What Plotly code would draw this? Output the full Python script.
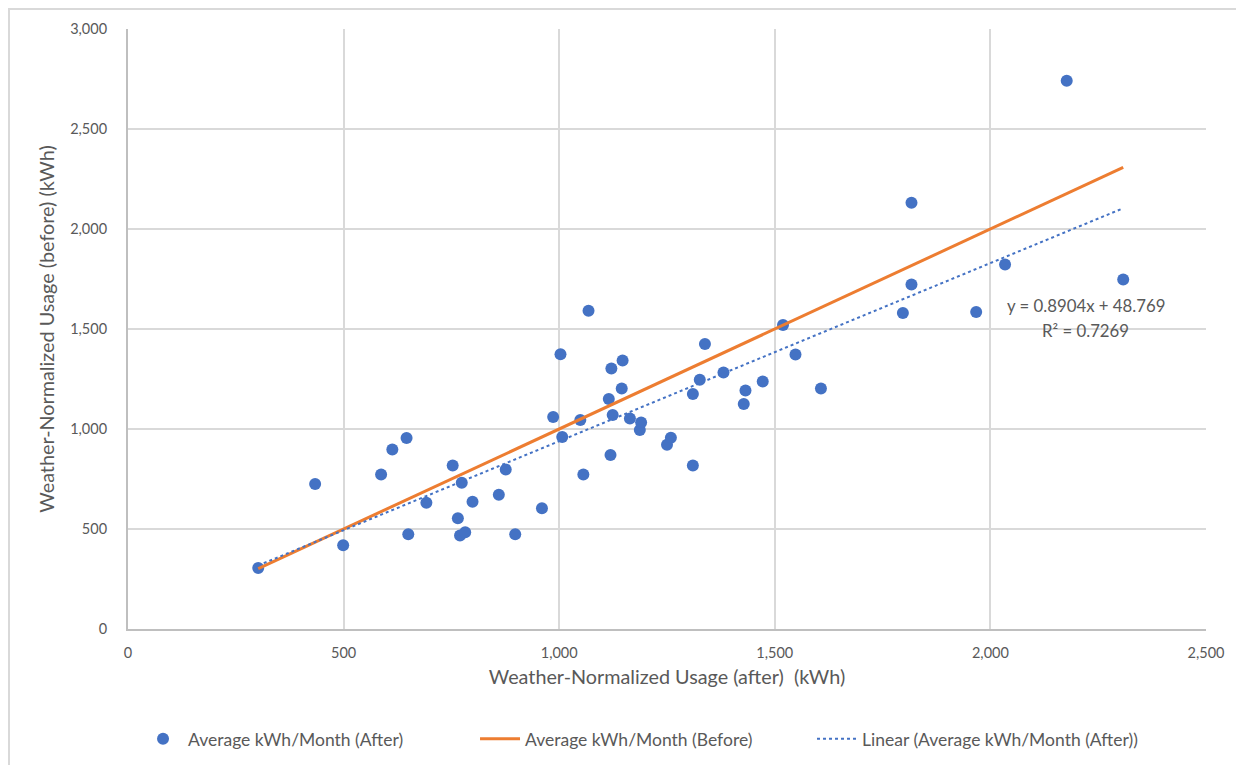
import plotly.graph_objects as go

# Data
after_kwh = [302, 434, 499, 587, 613, 646, 650, 692, 753, 765, 774, 770, 782, 799,
             860, 876, 898, 960, 986, 1003, 1007, 1049, 1056, 1068, 1115, 1119, 1121,
             1124, 1145, 1147, 1164, 1187, 1190, 1250, 1259, 1310, 1310, 1326, 1338,
             1381, 1428, 1432, 1472, 1519, 1548, 1607, 1797, 1817, 1817, 1967, 2034,
             2177, 2308]
before_kwh = [305, 725, 419, 773, 898, 955, 474, 631, 818, 554, 731, 467, 484, 636,
              671, 798, 474, 604, 1060, 1374, 960, 1045, 773, 1591, 1150, 870, 1302,
              1070, 1202, 1342, 1052, 995, 1032, 921, 956, 1175, 818, 1246, 1425,
              1282, 1125, 1192, 1237, 1520, 1372, 1202, 1580, 2131, 1722, 1585, 1822,
              2741, 1747]

# "Before" reference line (y = x) across the data range
ref_x = [min(after_kwh), max(after_kwh)]
ref_y = [min(after_kwh), max(after_kwh)]

# Trendline coefficients
slope = 0.8904
intercept = 48.769
r2 = 0.7269
trend_x = [min(after_kwh), max(after_kwh)]
trend_y = [slope * v + intercept for v in trend_x]

x_ticks = [0, 500, 1000, 1500, 2000, 2500]
y_ticks = [0, 500, 1000, 1500, 2000, 2500, 3000]

FONT = "Lato, 'Open Sans', sans-serif"
TXT = "#595959"
BLUE = "#4472C4"
ORANGE = "#ED7D31"

fig = go.Figure()
fig.add_trace(go.Scatter(
    x=after_kwh, y=before_kwh, mode="markers",
    name="Average kWh/Month (After)",
    marker=dict(color=BLUE, size=12, line=dict(width=0)),
))
fig.add_trace(go.Scatter(
    x=ref_x, y=ref_y, mode="lines",
    name="Average kWh/Month (Before)",
    line=dict(color=ORANGE, width=3),
))
fig.add_trace(go.Scatter(
    x=trend_x, y=trend_y, mode="lines",
    name="Linear (Average kWh/Month (After))",
    line=dict(color=BLUE, width=2, dash="dot"),
))

fig.add_annotation(
    x=2412, y=1617, xref="x", yref="y", xanchor="right", yanchor="middle",
    text=f"y = {slope}x + {intercept}", showarrow=False,
    font=dict(family=FONT, size=16.8, color=TXT),
)
fig.add_annotation(
    x=2326, y=1494, xref="x", yref="y", xanchor="right", yanchor="middle",
    text=f"R² = {r2}", showarrow=False,
    font=dict(family=FONT, size=16.8, color=TXT),
)

# outer chart border
fig.add_shape(type="rect", xref="paper", yref="paper",
              x0=-0.1104, x1=1.08, y0=-0.3, y1=1.0334,
              line=dict(color="#D9D9D9", width=2), fillcolor="rgba(0,0,0,0)",
              layer="below")

fig.update_layout(
    width=1244, height=765,
    margin=dict(l=120, r=46, t=21, b=144),
    paper_bgcolor="white", plot_bgcolor="white",
    font=dict(family=FONT, size=15, color=TXT),
    showlegend=True,
    legend=dict(
        orientation="h", x=0.0093, xanchor="left", y=-0.183, yanchor="middle",
        font=dict(family=FONT, size=17.5, color=TXT),
        itemwidth=40, tracegroupgap=0, entrywidth=282, entrywidthmode="pixels",
    ),
    xaxis=dict(
        range=[0, 2500], tickvals=x_ticks, tickformat=",d",
        showgrid=True, gridcolor="#D9D9D9", gridwidth=2,
        showline=True, linecolor="#BFBFBF", linewidth=2,
        zeroline=False, ticks="", ticklabelstandoff=10,
        tickfont=dict(family=FONT, size=14.5, color=TXT),
        title=dict(text="Weather-Normalized Usage (after)  (kWh)",
                   font=dict(family=FONT, size=19.8, color=TXT), standoff=10),
        automargin=False,
    ),
    yaxis=dict(
        range=[0, 3000], tickvals=y_ticks, tickformat=",d",
        showgrid=True, gridcolor="#D9D9D9", gridwidth=2,
        showline=True, linecolor="#BFBFBF", linewidth=2,
        zeroline=False, ticks="", ticklabelstandoff=16,
        tickfont=dict(family=FONT, size=14.5, color=TXT),
        title=dict(text="Weather-Normalized Usage (before) (kWh)",
                   font=dict(family=FONT, size=19.8, color=TXT), standoff=10),
        automargin=False,
    ),
)

fig.write_html("out.html")
